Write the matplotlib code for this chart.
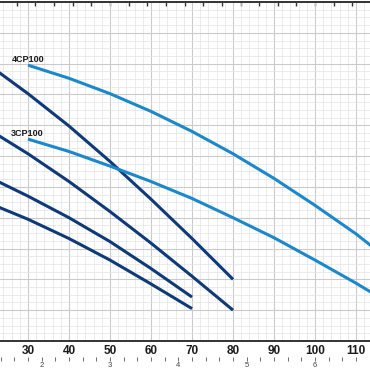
import numpy as np
import matplotlib
matplotlib.use("Agg")
import matplotlib.pyplot as plt
from matplotlib.ticker import MultipleLocator, FixedLocator

plt.rcParams['font.family'] = ['Liberation Sans Narrow', 'Liberation Sans', 'DejaVu Sans']

# flow in l/min, head in m
q_4cp = [30, 40, 50, 60, 70, 80, 90, 100, 110, 115]
h_4cp = [35.8, 34.1, 32.1, 29.8, 27.2, 24.3, 21.1, 17.6, 13.9, 11.8]

q_3cp = [30, 40, 50, 60, 70, 80, 90, 100, 110, 115]
h_3cp = [26.2, 24.6, 22.7, 20.7, 18.5, 16.0, 13.4, 10.5, 7.5, 5.9]

q_a = [20, 30, 40, 50, 60, 70, 80]
h_a = [36.0, 32.1, 27.9, 23.3, 18.4, 13.3, 8.0]

q_b = [20, 30, 40, 50, 60, 70, 80]
h_b = [27.6, 24.3, 20.7, 16.8, 12.7, 8.4, 4.0]

q_c = [20, 30, 40, 50, 60, 70]
h_c = [21.4, 18.8, 16.0, 12.9, 9.4, 5.7]

q_d = [20, 30, 40, 50, 60, 70]
h_d = [18.0, 15.8, 13.3, 10.5, 7.4, 4.2]

labels = ["4CP100", "3CP100"]
m3h_labels = [2, 3, 4, 5, 6]

dark = '#0f3a78'
light = '#1b88cb'

fig = plt.figure(figsize=(3.7, 3.7), dpi=100)
ax = fig.add_axes([0, 0.0784, 1, 0.9162])

ax.set_xlim(23.17, 113.4)
ax.set_ylim(0, 44)

ax.xaxis.set_major_locator(MultipleLocator(10))
ax.xaxis.set_minor_locator(MultipleLocator(2))
ax.yaxis.set_major_locator(MultipleLocator(4))
ax.yaxis.set_minor_locator(MultipleLocator(1))
ax.grid(which='major', color='#cacaca', lw=0.75)
ax.grid(which='minor', color='#e3e3e3', lw=0.5)
ax.set_axisbelow(True)

ax.tick_params(axis='x', which='both', length=0, pad=3, labelsize=8.5, labelcolor='#1a1a1a')
ax.tick_params(axis='y', which='both', length=0, labelleft=False)
for t in ax.get_xticklabels():
    t.set_fontweight('bold')

for s in ['left', 'right']:
    ax.spines[s].set_visible(False)
for s in ['bottom', 'top']:
    ax.spines[s].set_linewidth(1.4)
    ax.spines[s].set_color('#333333')

lw = 2.2
for q, h in [(q_a, h_a), (q_b, h_b), (q_c, h_c), (q_d, h_d)]:
    ax.plot(q, h, color=dark, lw=lw, solid_capstyle='butt', solid_joinstyle='round')
for q, h, lab in [(q_4cp, h_4cp, labels[0]), (q_3cp, h_3cp, labels[1])]:
    ax.plot(q, h, color=light, lw=lw, solid_capstyle='butt', solid_joinstyle='round')
    ax.annotate(lab, xy=(q[0], h[0]), xytext=(-12, 1), textcoords='offset points',
                fontsize=6.5, fontweight='bold', color='#1a1a1a', ha='left', va='bottom')

# top axis: imperial gallons per minute
top = ax.secondary_xaxis('top', functions=(lambda x: x / 4.546, lambda g: g * 4.546))
top.xaxis.set_major_locator(MultipleLocator(1))
top.tick_params(direction='in', length=3, width=1, color='#333333', labeltop=False)
top.spines['top'].set_visible(False)

# lower axis: m3/h
bot = ax.secondary_xaxis(-0.047, functions=(lambda x: x / 16.667, lambda m: m * 16.667))
bot.xaxis.set_major_locator(FixedLocator(m3h_labels))
bot.xaxis.set_minor_locator(MultipleLocator(0.2))
bot.tick_params(which='both', direction='out', length=3, width=0.6, color='#555555',
                pad=0.5, labelsize=5.5, labelcolor='#444444')
bot.spines['bottom'].set_visible(False)

fig.savefig("out.png", dpi=100)
